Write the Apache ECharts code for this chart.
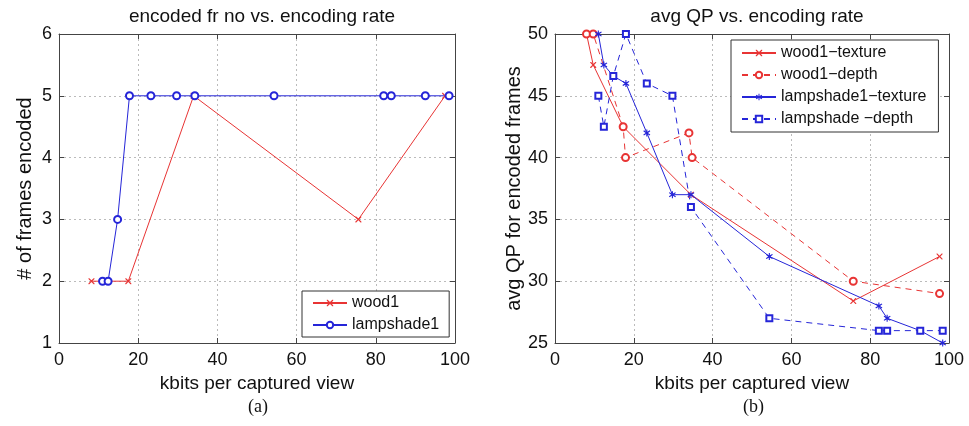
<!DOCTYPE html>
<html><head><meta charset="utf-8">
<script src="https://cdn.jsdelivr.net/npm/echarts@6/dist/echarts.min.js"></script>
<style>html,body{margin:0;padding:0;background:#fff}#c{width:969px;height:426px}</style>
</head><body><div id="c"></div>
<script>
// ---- data ----
const xTicks = [0, 20, 40, 60, 80, 100];
const framesTicks = [1, 2, 3, 4, 5, 6];
const qpTicks = [25, 30, 35, 40, 45, 50];

const wood1Frames = [[8.2,2],[17.5,2],[34.0,5],[75.6,3],[97.5,5]];
const lampshade1Frames = [[11.0,2],[12.4,2],[14.8,3],[17.8,5],[23.2,5],[29.7,5],[34.3,5],[54.3,5],[82.0,5],[83.9,5],[92.5,5],[98.5,5]];

const wood1Texture = [[8.0,50],[9.7,47.5],[17.3,42.5],[34.5,37],[75.7,28.4],[97.6,32]];
const wood1Depth = [[8.0,50],[9.7,50],[17.3,42.5],[17.9,40],[34.0,42],[34.8,40],[75.7,30],[97.6,29]];
const lampTexture = [[11.0,50],[12.4,47.5],[14.8,46.6],[18.0,46],[23.3,42],[29.8,37],[34.5,37],[54.4,32],[82.2,28],[84.3,27],[92.7,26],[98.4,25]];
const lampDepth = [[11.0,45],[12.4,42.5],[14.8,46.6],[18.0,50],[23.3,46],[29.8,45],[34.5,36],[54.4,27],[82.2,26],[84.3,26],[92.7,26],[98.4,26]];

// ---- style ----
const RED = '#e83434', BLUE = '#2525d8';
const FONT = "'Liberation Sans'";
const XSYM = 'path://M0,0L1.4,0L5,3.6L8.6,0L10,0L10,1.4L6.4,5L10,8.6L10,10L8.6,10L5,6.4L1.4,10L0,10L0,8.6L3.6,5L0,1.4Z';
const STAR = 'path://M4.3,0L5.7,0L5.7,3.3L8.6,1.4L9.4,2.6L6.5,5L9.4,7.4L8.6,8.6L5.7,6.7L5.7,10L4.3,10L4.3,6.7L1.4,8.6L0.6,7.4L3.5,5L0.6,2.6L1.4,1.4L4.3,3.3Z';

const grids = [
  {left: 59, top: 34, width: 396, height: 309},
  {left: 555, top: 34, width: 394, height: 309}
];

function mainX(gi) {
  return {
    type: 'value', gridIndex: gi, min: 0, max: 100, interval: 20, position: 'bottom',
    name: 'kbits per captured view', nameLocation: 'middle', nameGap: 28,
    nameTextStyle: {fontFamily: FONT, fontSize: 19, color: '#111'},
    axisLine: {show: true, onZero: false, lineStyle: {color: '#444', width: 1}},
    axisTick: {show: true, inside: true, length: 5, lineStyle: {color: '#444'}},
    axisLabel: {fontFamily: FONT, fontSize: 18, color: '#111', margin: 8},
    splitLine: {show: true, lineStyle: {color: '#bbb', type: [2, 3]}}
  };
}
function topX(gi) {
  return {
    type: 'value', gridIndex: gi, min: 0, max: 100, interval: 20, position: 'top',
    axisLine: {show: true, onZero: false, lineStyle: {color: '#444', width: 1}},
    axisTick: {show: true, inside: true, length: 5, lineStyle: {color: '#444'}},
    axisLabel: {show: false}, splitLine: {show: false}
  };
}
function mainY(gi, min, max, interval, name, gap) {
  return {
    type: 'value', gridIndex: gi, min: min, max: max, interval: interval, position: 'left',
    name: name, nameLocation: 'middle', nameGap: gap,
    nameTextStyle: {fontFamily: FONT, fontSize: 20, color: '#111'},
    axisLine: {show: true, onZero: false, lineStyle: {color: '#444', width: 1}},
    axisTick: {show: true, inside: true, length: 5, lineStyle: {color: '#444'}},
    axisLabel: {fontFamily: FONT, fontSize: 18, color: '#111', margin: 7},
    splitLine: {show: true, lineStyle: {color: '#bbb', type: [2, 3]}}
  };
}
function rightY(gi, min, max, interval) {
  return {
    type: 'value', gridIndex: gi, min: min, max: max, interval: interval, position: 'right',
    axisLine: {show: true, onZero: false, lineStyle: {color: '#444', width: 1}},
    axisTick: {show: true, inside: true, length: 5, lineStyle: {color: '#444'}},
    axisLabel: {show: false}, splitLine: {show: false}
  };
}

function lineSeries(name, data, xi, yi, color, symbol, size, dashed, empty) {
  return {
    type: 'line', name: name, data: data, xAxisIndex: xi, yAxisIndex: yi,
    symbol: symbol, symbolSize: size, showAllSymbol: true, clip: false,
    lineStyle: {color: color, width: 1, type: dashed ? [6, 5] : 'solid'},
    itemStyle: {color: color, borderColor: color, borderWidth: empty ? 1 : 0},
    emphasis: {disabled: true}, animation: false
  };
}

const chart = echarts.init(document.getElementById('c'), null, {renderer: 'canvas'});
chart.setOption({
  backgroundColor: '#fff',
  animation: false,
  title: [
    {text: 'encoded fr no vs. encoding rate', left: 257, top: 2, textAlign: 'center',
     textStyle: {fontFamily: FONT, fontSize: 19, fontWeight: 'normal', color: '#111'}},
    {text: 'avg QP vs. encoding rate', left: 752, top: 2, textAlign: 'center',
     textStyle: {fontFamily: FONT, fontSize: 19, fontWeight: 'normal', color: '#111'}}
  ],
  grid: grids,
  xAxis: [mainX(0), topX(0), mainX(1), topX(1)],
  yAxis: [
    mainY(0, framesTicks[0], framesTicks[framesTicks.length-1], 1, '# of frames encoded', 24),
    rightY(0, framesTicks[0], framesTicks[framesTicks.length-1], 1),
    mainY(1, qpTicks[0], qpTicks[qpTicks.length-1], 5, 'avg QP for encoded frames', 28),
    rightY(1, qpTicks[0], qpTicks[qpTicks.length-1], 5)
  ],
  legend: [
    {data: ['wood1', 'lampshade1'], orient: 'vertical', left: 302, top: 291,
     itemWidth: 34, itemHeight: 8, itemGap: 6, padding: [4, 10, 4, 10],
     borderColor: '#333', borderWidth: 1, backgroundColor: '#fff',
     textStyle: {fontFamily: FONT, fontSize: 16, color: '#111'}},
    {data: ['wood1−texture', 'wood1−depth', 'lampshade1−texture', 'lampshade −depth'],
     orient: 'vertical', left: 731, top: 40,
     itemWidth: 34, itemHeight: 8, itemGap: 6, padding: [5, 12, 5, 10],
     borderColor: '#333', borderWidth: 1, backgroundColor: '#fff',
     textStyle: {fontFamily: FONT, fontSize: 16, color: '#111'}}
  ],
  graphic: [
    {type: 'text', left: 248, top: 398, style: {text: '(a)', font: '18px "Liberation Serif"', fill: '#111'}},
    {type: 'text', left: 743, top: 398, style: {text: '(b)', font: '18px "Liberation Serif"', fill: '#111'}}
  ],
  series: [
    lineSeries('wood1', wood1Frames, 0, 0, RED, XSYM, 6, false, false),
    lineSeries('lampshade1', lampshade1Frames, 0, 0, BLUE, 'emptyCircle', 7, false, true),
    lineSeries('wood1−texture', wood1Texture, 2, 2, RED, XSYM, 6, false, false),
    lineSeries('wood1−depth', wood1Depth, 2, 2, RED, 'emptyCircle', 7, true, true),
    lineSeries('lampshade1−texture', lampTexture, 2, 2, BLUE, STAR, 7, false, false),
    lineSeries('lampshade −depth', lampDepth, 2, 2, BLUE, 'emptyRect', 6, true, true)
  ]
});
</script></body></html>
